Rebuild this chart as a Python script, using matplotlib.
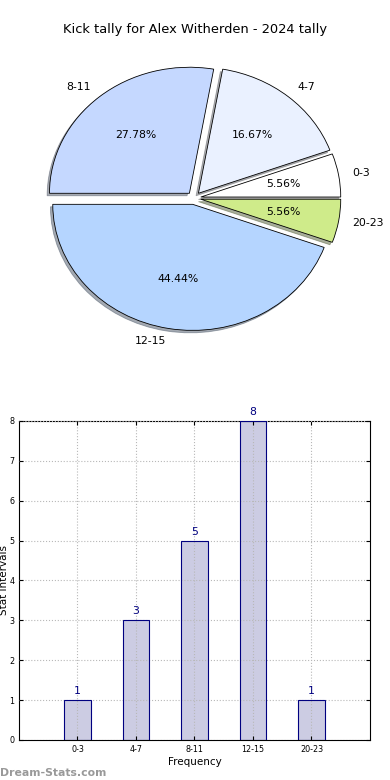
import matplotlib
matplotlib.use("Agg")
import matplotlib.pyplot as plt

categories = ["0-3", "4-7", "8-11", "12-15", "20-23"]
counts = [1, 3, 5, 8, 1]
pie_colors = ["#ffffff", "#eaf1ff", "#c5d8ff", "#b5d5ff", "#cfeb8a"]
title = "Kick tally for Alex Witherden - 2024 tally"

fig = plt.figure(figsize=(3.9, 7.8), dpi=100)

# Pie
axp = fig.add_axes([0.0487, 0.544, 0.897, 0.404])
wedges, texts, autotexts = axp.pie(
    counts, labels=categories, colors=pie_colors, explode=[0.05] * 5,
    autopct="%.2f%%", startangle=0,
    shadow={"ox": -0.012, "oy": -0.014, "shade": 0.6},
    wedgeprops=dict(edgecolor="black", linewidth=0.6),
    textprops=dict(fontsize=7.8))
axp.set_aspect("auto")
axp.set_xlim(-1.25, 1.25)
axp.set_ylim(-1.25, 1.25)
fig.text(0.5, 0.962, title, ha="center", va="center", fontsize=9.4)

# Bars
axb = fig.add_axes([0.0487, 0.0513, 0.9, 0.409])
x = list(range(len(categories)))
axb.bar(x, counts, width=0.45, color="#cccce3", edgecolor="none", zorder=1)
axb.bar(x, counts, width=0.45, facecolor="none", edgecolor="#000080", linewidth=0.8, zorder=4)
for xi, c in zip(x, counts):
    axb.text(xi, c + 0.1, str(c), ha="center", va="bottom", color="#000080", fontsize=7.8)
axb.set_xlim(-1, 5)
axb.set_ylim(0, 8)
axb.set_xticks(x)
axb.set_xticklabels(categories)
axb.set_yticks(range(0, 9))
axb.tick_params(direction="in", labelsize=5.8, length=3, top=True, right=True)
axb.set_axisbelow(False)
axb.grid(True, linestyle=":", color="#b8b8b8", linewidth=0.8, zorder=3)
axb.set_xlabel("Frequency", fontsize=7.5, labelpad=2)
axb.set_ylabel("Stat Intervals", fontsize=7.5)
axb.yaxis.set_label_coords(-0.028, 0.5)
fig.text(0.0, 0.002, "Dream-Stats.com", ha="left", va="bottom", fontsize=7.8,
         color="#999999", fontweight="bold")

fig.savefig("out.png", dpi=100)
